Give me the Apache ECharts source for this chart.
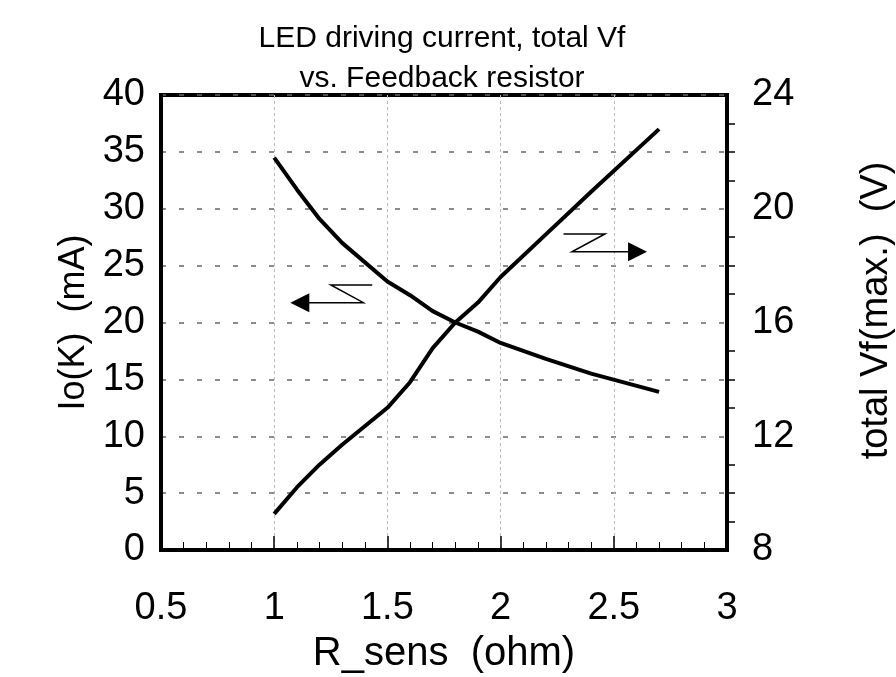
<!DOCTYPE html>
<html><head><meta charset="utf-8">
<script src="https://cdn.jsdelivr.net/npm/echarts@6/dist/echarts.min.js"></script>
<style>html,body{margin:0;padding:0;background:#fff}#c{width:896px;height:677px}</style>
</head><body><div id="c"></div>
<script>
var rSens = [1.0, 1.1, 1.2, 1.3, 1.5, 1.6, 1.7, 1.8, 1.9, 2.0, 2.2, 2.4, 2.7];
var ioK   = [34.5, 31.7, 29.1, 27.0, 23.6, 22.4, 21.0, 20.0, 19.2, 18.2, 16.8, 15.5, 13.9];
var vfMax = [9.27, 10.2, 11.0, 11.7, 13.0, 13.9, 15.1, 16.0, 16.7, 17.6, 19.1, 20.6, 22.8];
var xTicks = [0.5, 1, 1.5, 2, 2.5, 3];
var leftArrow  = [[1.433, 23.3], [1.25, 23.3], [1.394, 21.74], [1.10, 21.74]];
var rightArrow = [[2.278, 27.78], [2.461, 27.78], [2.315, 26.22], [2.62, 26.22]];
var leftHead  = [1.113, 21.74];
var rightHead = [2.605, 26.22];

var F = '"Liberation Sans", Arial, sans-serif';
var chart = echarts.init(document.getElementById('c'));
function pairs(xs, ys){ return xs.map(function(x,i){ return [x, ys[i]]; }); }
chart.setOption({
  animation: false,
  title: {
    text: 'LED driving current, total Vf\nvs. Feedback resistor',
    left: 437, top: 14, textAlign: 'center',
    textStyle: { fontFamily: F, fontSize: 30, fontWeight: 'normal', color: '#000', lineHeight: 40 }
  },
  grid: { left: 161, right: 169, top: 95, bottom: 127, show: true, borderColor: '#000', borderWidth: 4,
          containLabel: false, outerBoundsMode: 'none' },
  xAxis: {
    type: 'value', min: 0.5, max: 3, interval: 0.5,
    name: 'R_sens  (ohm)', nameLocation: 'middle', nameGap: 84,
    nameTextStyle: { fontFamily: F, fontSize: 40, color: '#000' },
    axisLine: { lineStyle: { color: '#000', width: 4 } },
    axisTick: { inside: true, length: 14, lineStyle: { color: '#000', width: 1.5 } },
    minorTick: { show: true, splitNumber: 5, length: 8, lineStyle: { color: '#000', width: 1 } },
    axisLabel: { margin: 40, fontFamily: F, fontSize: 38, color: '#000',
      formatter: function(v){ return xTicks.indexOf(v) >= 0 ? String(v) : ''; } },
    splitLine: { show: true, lineStyle: { color: '#bbb', type: [3, 3], width: 1 } }
  },
  yAxis: [{
    type: 'value', min: 0, max: 40, interval: 5, position: 'left',
    name: 'Io(K)  (mA)', nameLocation: 'middle', nameGap: 66, nameRotate: 90,
    nameTextStyle: { fontFamily: F, fontSize: 36, color: '#000' },
    axisLine: { show: true, lineStyle: { color: '#000', width: 4 } },
    axisTick: { show: false },
    axisLabel: { margin: 16, fontFamily: F, fontSize: 38, color: '#000' },
    splitLine: { show: true, lineStyle: { color: '#666', type: [5, 13], width: 1.5 } }
  }, {
    type: 'value', min: 8, max: 24, interval: 4, position: 'right',
    name: 'total Vf(max.)  (V)', nameLocation: 'middle', nameGap: 131, nameRotate: 90,
    nameTextStyle: { fontFamily: F, fontSize: 38, color: '#000', padding: [0, 0, 0, 24] },
    axisLine: { show: true, lineStyle: { color: '#000', width: 4 } },
    axisTick: { show: false },
    minorTick: { show: true, splitNumber: 4, length: 8, lineStyle: { color: '#000', width: 1.5 } },
    axisLabel: { margin: 25, fontFamily: F, fontSize: 38, color: '#000' },
    splitLine: { show: false }
  }],
  series: [{
    type: 'line', yAxisIndex: 0, data: pairs(rSens, ioK), showSymbol: false, symbol: 'none',
    lineStyle: { color: '#000', width: 4 }
  }, {
    type: 'line', yAxisIndex: 1, data: pairs(rSens, vfMax), showSymbol: false, symbol: 'none',
    lineStyle: { color: '#000', width: 4 }
  }, {
    type: 'lines', coordinateSystem: 'cartesian2d', xAxisIndex: 0, yAxisIndex: 0, polyline: true,
    silent: true, lineStyle: { color: '#000', width: 1.5, opacity: 1 },
    data: [{ coords: leftArrow }, { coords: rightArrow }]
  }, {
    type: 'scatter', xAxisIndex: 0, yAxisIndex: 0, silent: true, symbol: 'triangle',
    symbolSize: [19, 19], itemStyle: { color: '#000', opacity: 1 },
    data: [{ value: leftHead, symbolRotate: 90 }, { value: rightHead, symbolRotate: -90 }]
  }]
});
</script></body></html>
